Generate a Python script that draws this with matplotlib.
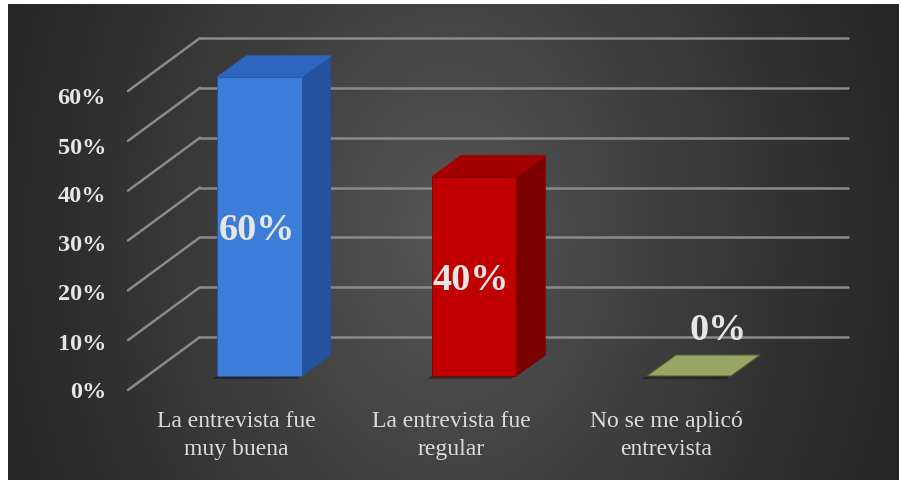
import numpy as np
import matplotlib
matplotlib.use("Agg")
import matplotlib.pyplot as plt
from matplotlib.patches import Polygon

# ---- data ----
categories = ["La entrevista fue\nmuy buena", "La entrevista fue\nregular", "No se me aplicó\nentrevista"]
values = [0.60, 0.40, 0.00]
y_ticks = [0.0, 0.1, 0.2, 0.3, 0.4, 0.5, 0.6]
y_tick_labels = ["0%", "10%", "20%", "30%", "40%", "50%", "60%"]
value_labels = ["60%", "40%", "0%"]

# ---- styling ----
face_colors = ["#3b7dd8", "#c00000", "#8d9a5b"]
side_colors = ["#24529f", "#7c0000", "#6f7a45"]
top_colors = ["#2e66bf", "#a30000", "#98a565"]
grid_color = "#8a8a8a"
text_color = "#e6e6e6"
serif = ["Liberation Serif", "DejaVu Serif"]

W, H, DPI = 901, 480, 100
fig = plt.figure(figsize=(W / DPI, H / DPI), dpi=DPI, facecolor="white")

# dark radial gradient panel
bg = fig.add_axes([8 / W, 0, (899 - 8) / W, 476 / H])
bg.set_axis_off()
gx = np.linspace(8, 899, 446)
gy = np.linspace(4, 480, 238)
X, Y = np.meshgrid(gx, gy)
r = np.sqrt(((X - 450) / 470) ** 2 + ((Y - 235) / 650) ** 2)
lev = 38 + (86 - 38) * np.clip(1 - r, 0, 1) ** 1.1
img = np.dstack([lev, lev, lev]) / 255.0
bg.imshow(img, aspect="auto", extent=[0, 1, 0, 1], interpolation="bilinear")
bg.set_xlim(0, 1)
bg.set_ylim(0, 1)

# plotting plane (front face of the bars)
ax = fig.add_axes([147 / W, 104 / H, 648 / W, 299 / H])
ax.set_axis_off()
ax.patch.set_alpha(0)
ax.set_xlim(-0.524, 2.494)
ax.set_ylim(0, 0.6)
fig.canvas.draw()

inv = ax.transData.inverted()


def px(dx, dy):
    """Convert a pixel offset (y up) into a data-space offset."""
    o = inv.transform((0, 0))
    p = inv.transform((dx, dy))
    return p[0] - o[0], p[1] - o[1]


FRONT = px(-19, -14)   # floor front edge
BACK = px(53, 39)      # back wall
DEPTH = px(29, 21)     # bar depth
xmin, xmax = ax.get_xlim()
bar_w = 0.392

# gridlines on back wall plus diagonal floor/side lines
for v in y_ticks:
    ax.plot([xmin + BACK[0], xmax + BACK[0]], [v + BACK[1], v + BACK[1]],
            color=grid_color, lw=1.8, solid_capstyle="round", zorder=1, clip_on=False)
    ax.plot([xmin + FRONT[0], xmin + BACK[0]], [v + FRONT[1], v + BACK[1]],
            color=grid_color, lw=1.8, solid_capstyle="round", zorder=1, clip_on=False)

# y-axis labels along the front edge
for v, lab in zip(y_ticks, y_tick_labels):
    ax.annotate(lab, (xmin + FRONT[0], v + FRONT[1]), xytext=(-22, -3 - 5 * v / 0.6),
                textcoords="offset pixels", ha="right", va="center",
                fontsize=17.5, fontweight="bold", family=serif, color=text_color,
                annotation_clip=False)

# 3D-style bars
dx, dy = DEPTH
for i, (v, fc, sc, tc) in enumerate(zip(values, face_colors, side_colors, top_colors)):
    x0, x1 = i - bar_w / 2, i + bar_w / 2
    sh = px(-5, -3)
    ax.add_patch(Polygon([(x0 + sh[0], sh[1]), (x1 + sh[0], sh[1]),
                          (x1 + dx + sh[0], dy + sh[1]), (x0 + dx + sh[0], dy + sh[1])],
                         closed=True, facecolor="black", alpha=0.35, lw=0, zorder=2, clip_on=False))
    if v > 0:
        ax.add_patch(Polygon([(x1, 0), (x1, v), (x1 + dx, v + dy), (x1 + dx, dy)],
                             closed=True, facecolor=sc, edgecolor=sc, lw=0.5, zorder=3, clip_on=False))
        ax.add_patch(Polygon([(x0, 0), (x1, 0), (x1, v), (x0, v)],
                             closed=True, facecolor=fc, edgecolor=sc, lw=0.6, zorder=4, clip_on=False))
    ax.add_patch(Polygon([(x0, v), (x1, v), (x1 + dx, v + dy), (x0 + dx, v + dy)],
                         closed=True, facecolor=tc, edgecolor="#55602f" if v == 0 else tc,
                         lw=0.8, zorder=5, clip_on=False))

# value labels
for i, (v, lab) in enumerate(zip(values, value_labels)):
    if v > 0:
        pos, off = (i, v / 2), (-3, -4)
    else:
        pos, off = (i + dx, v + dy), (0, 24)
    ax.annotate(lab, pos, xytext=off, textcoords="offset pixels",
                ha="center", va="center", fontsize=27.5, fontweight="bold",
                family=serif, color=text_color, zorder=6, annotation_clip=False)

# category labels below the floor
for i, lab in enumerate(categories):
    ax.annotate(lab, (i + FRONT[0], FRONT[1]), xytext=(-4, -21),
                textcoords="offset pixels", ha="center", va="top",
                fontsize=17, family=serif, color="#dcdcdc", linespacing=1.45,
                annotation_clip=False)

fig.savefig("out.png", dpi=DPI, facecolor="white")
